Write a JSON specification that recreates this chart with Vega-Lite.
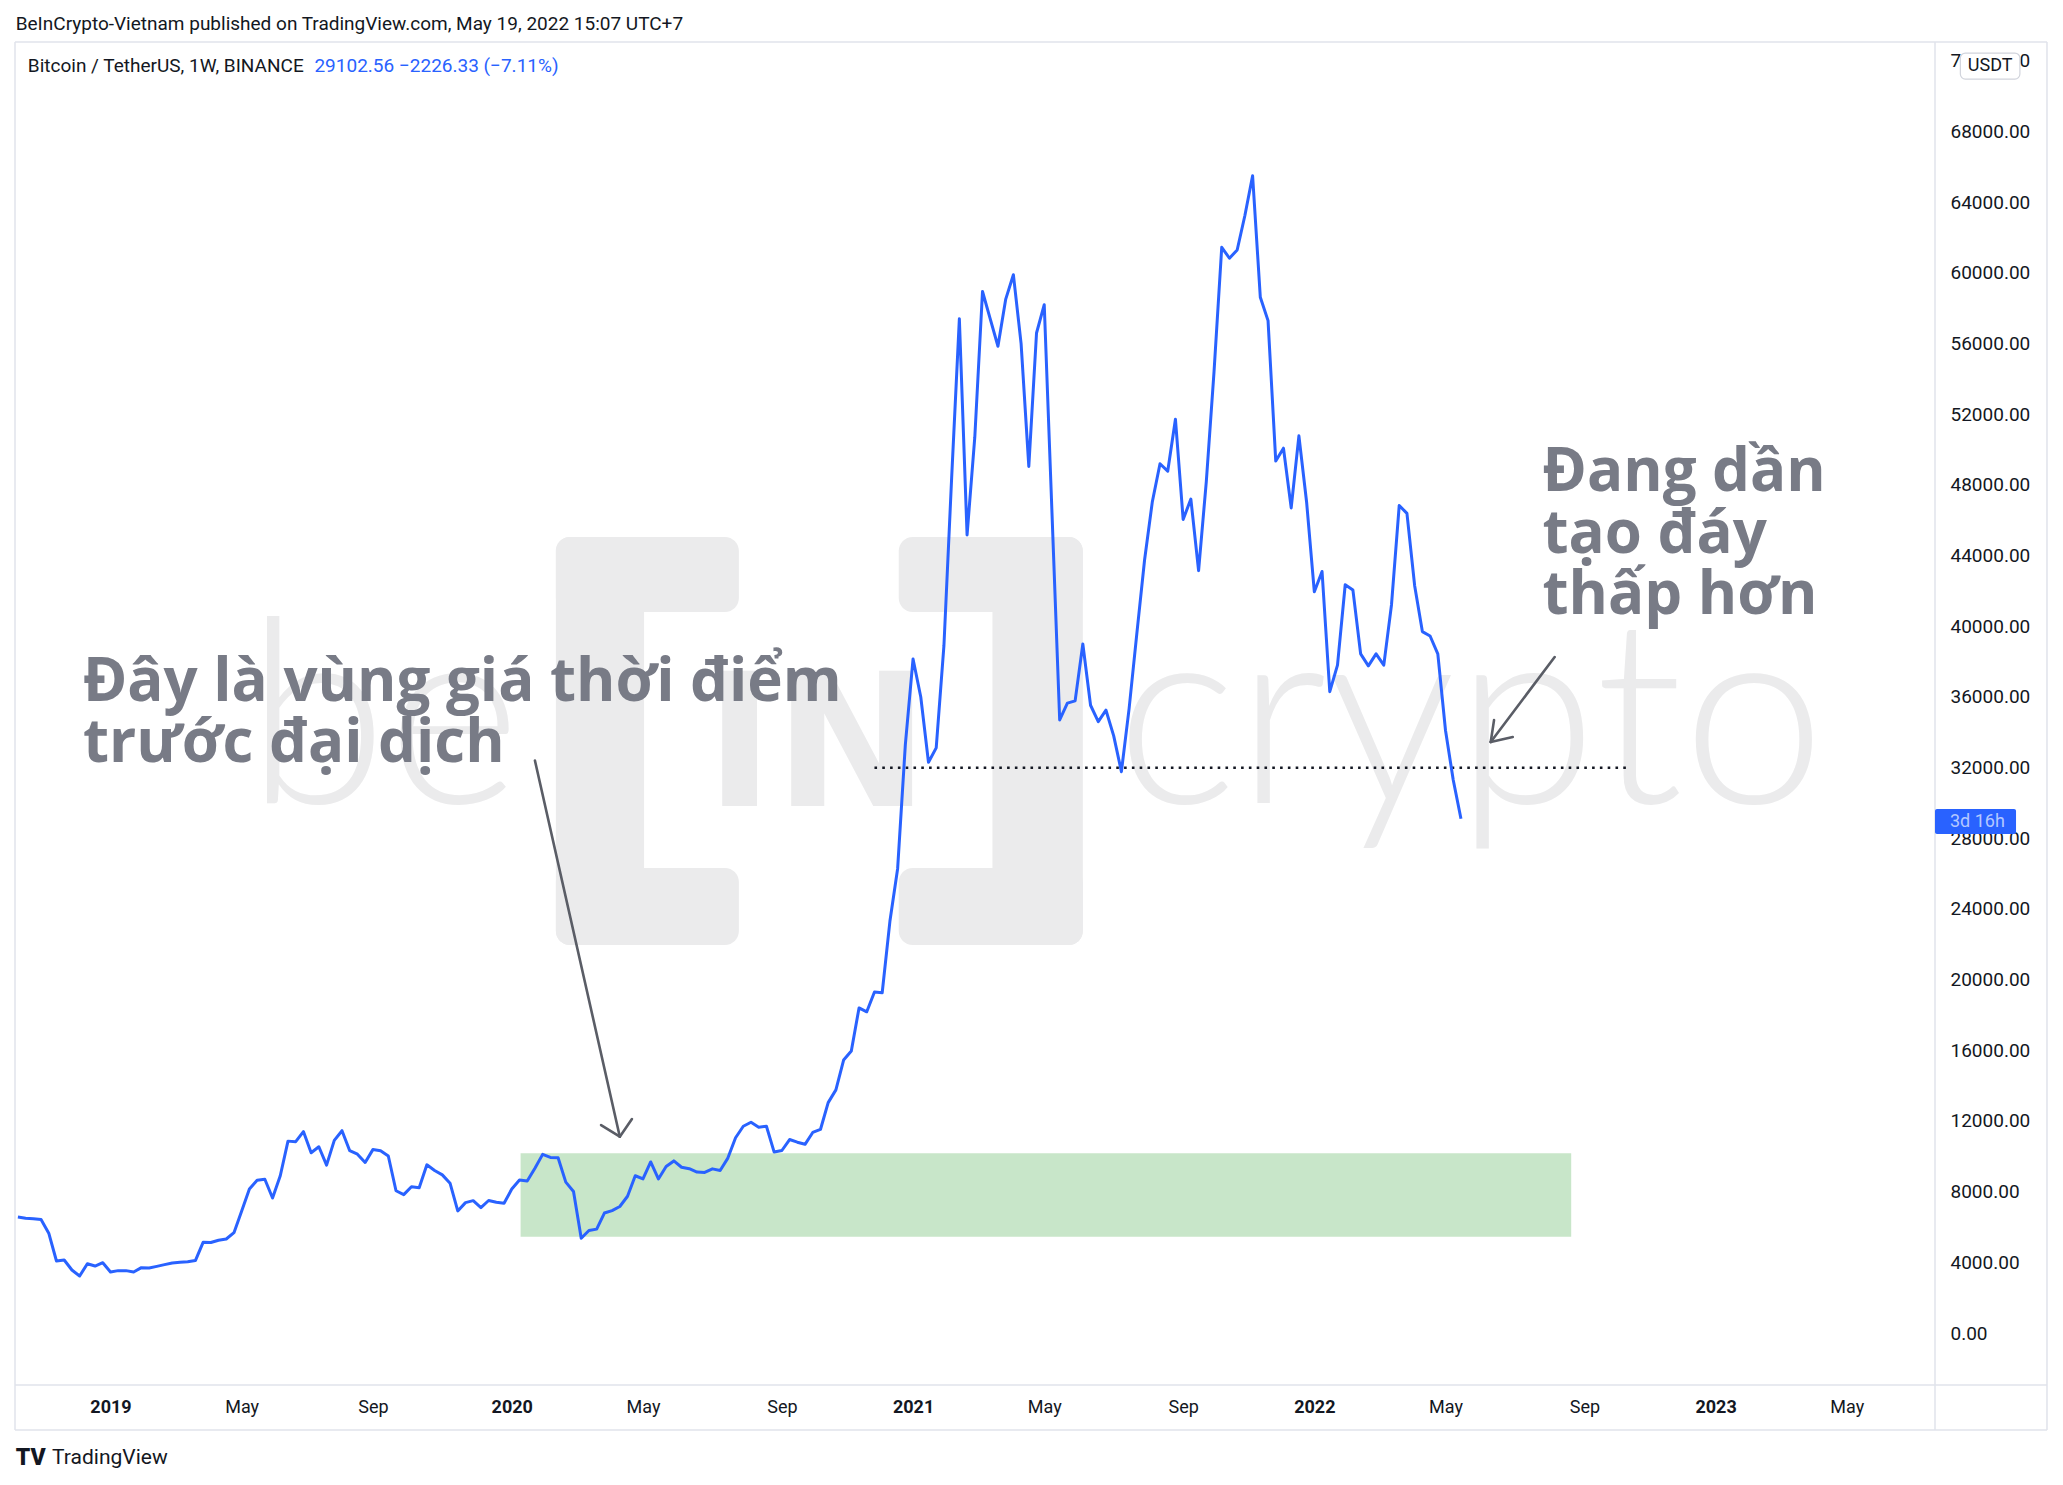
{
  "$schema": "https://vega.github.io/schema/vega-lite/v6.json",
  "width": 1920,
  "height": 1343,
  "autosize": "none",
  "padding": {"left": 15, "top": 42, "right": 128, "bottom": 100},
  "background": "white",
  "config": {"view": {"stroke": null}, "font": "Roboto"},
  "resolve": {"axis": {"x": "independent", "y": "independent"}},
  "datasets": {
    "btc": [
      {"d":"2018-10-15","p":6560},{"d":"2018-10-22","p":6490},{"d":"2018-10-29","p":6470},{"d":"2018-11-05","p":6420},
      {"d":"2018-11-12","p":5650},{"d":"2018-11-19","p":4075},{"d":"2018-11-26","p":4130},{"d":"2018-12-03","p":3565},
      {"d":"2018-12-10","p":3225},{"d":"2018-12-17","p":3920},{"d":"2018-12-24","p":3790},{"d":"2018-12-31","p":3980},
      {"d":"2019-01-07","p":3450},{"d":"2019-01-14","p":3530},{"d":"2019-01-21","p":3530},{"d":"2019-01-28","p":3450},
      {"d":"2019-02-04","p":3700},{"d":"2019-02-11","p":3680},{"d":"2019-02-18","p":3770},{"d":"2019-02-25","p":3870},
      {"d":"2019-03-04","p":3960},{"d":"2019-03-11","p":4000},{"d":"2019-03-18","p":4030},{"d":"2019-03-25","p":4100},
      {"d":"2019-04-01","p":5130},{"d":"2019-04-08","p":5120},{"d":"2019-04-15","p":5250},{"d":"2019-04-22","p":5320},
      {"d":"2019-04-29","p":5680},{"d":"2019-05-06","p":6900},{"d":"2019-05-13","p":8150},{"d":"2019-05-20","p":8650},
      {"d":"2019-05-27","p":8700},{"d":"2019-06-03","p":7640},{"d":"2019-06-10","p":8900},{"d":"2019-06-17","p":10860},
      {"d":"2019-06-24","p":10830},{"d":"2019-07-01","p":11400},{"d":"2019-07-08","p":10200},{"d":"2019-07-15","p":10540},
      {"d":"2019-07-22","p":9500},{"d":"2019-07-29","p":10900},{"d":"2019-08-05","p":11450},{"d":"2019-08-12","p":10320},
      {"d":"2019-08-19","p":10120},{"d":"2019-08-26","p":9650},{"d":"2019-09-02","p":10380},{"d":"2019-09-09","p":10320},
      {"d":"2019-09-16","p":10020},{"d":"2019-09-23","p":8050},{"d":"2019-09-30","p":7830},{"d":"2019-10-07","p":8280},
      {"d":"2019-10-14","p":8220},{"d":"2019-10-21","p":9520},{"d":"2019-10-28","p":9200},{"d":"2019-11-04","p":8950},
      {"d":"2019-11-11","p":8480},{"d":"2019-11-18","p":6910},{"d":"2019-11-25","p":7380},{"d":"2019-12-02","p":7490},
      {"d":"2019-12-09","p":7100},{"d":"2019-12-16","p":7500},{"d":"2019-12-23","p":7400},{"d":"2019-12-30","p":7340},
      {"d":"2020-01-06","p":8150},{"d":"2020-01-13","p":8660},{"d":"2020-01-20","p":8600},{"d":"2020-01-27","p":9330},
      {"d":"2020-02-03","p":10110},{"d":"2020-02-10","p":9940},{"d":"2020-02-17","p":9920},{"d":"2020-02-24","p":8540},
      {"d":"2020-03-02","p":8010},{"d":"2020-03-09","p":5360},{"d":"2020-03-16","p":5800},{"d":"2020-03-23","p":5880},
      {"d":"2020-03-30","p":6790},{"d":"2020-04-06","p":6930},{"d":"2020-04-13","p":7160},{"d":"2020-04-20","p":7740},
      {"d":"2020-04-27","p":8900},{"d":"2020-05-04","p":8720},{"d":"2020-05-11","p":9680},{"d":"2020-05-18","p":8720},
      {"d":"2020-05-25","p":9420},{"d":"2020-06-01","p":9740},{"d":"2020-06-08","p":9380},{"d":"2020-06-15","p":9300},
      {"d":"2020-06-22","p":9110},{"d":"2020-06-29","p":9090},{"d":"2020-07-06","p":9290},{"d":"2020-07-13","p":9200},
      {"d":"2020-07-20","p":9900},{"d":"2020-07-27","p":11050},{"d":"2020-08-03","p":11700},{"d":"2020-08-10","p":11930},
      {"d":"2020-08-17","p":11650},{"d":"2020-08-24","p":11700},{"d":"2020-08-31","p":10240},{"d":"2020-09-07","p":10330},
      {"d":"2020-09-14","p":10950},{"d":"2020-09-21","p":10800},{"d":"2020-09-28","p":10680},{"d":"2020-10-05","p":11350},
      {"d":"2020-10-12","p":11520},{"d":"2020-10-19","p":13040},{"d":"2020-10-26","p":13760},{"d":"2020-11-02","p":15450},
      {"d":"2020-11-09","p":15960},{"d":"2020-11-16","p":18400},{"d":"2020-11-23","p":18180},{"d":"2020-11-30","p":19300},
      {"d":"2020-12-07","p":19260},{"d":"2020-12-14","p":23300},{"d":"2020-12-21","p":26280},{"d":"2020-12-28","p":33300},
      {"d":"2021-01-04","p":38150},{"d":"2021-01-11","p":36000},{"d":"2021-01-18","p":32300},{"d":"2021-01-25","p":33120},
      {"d":"2021-02-01","p":38900},{"d":"2021-02-08","p":48400},{"d":"2021-02-15","p":57400},{"d":"2021-02-22","p":45170},
      {"d":"2021-03-01","p":50700},{"d":"2021-03-08","p":58950},{"d":"2021-03-15","p":57400},{"d":"2021-03-22","p":55850},
      {"d":"2021-03-29","p":58500},{"d":"2021-04-05","p":59900},{"d":"2021-04-12","p":56000},{"d":"2021-04-19","p":49050},
      {"d":"2021-04-26","p":56600},{"d":"2021-05-03","p":58200},{"d":"2021-05-10","p":46450},{"d":"2021-05-17","p":34700},
      {"d":"2021-05-24","p":35650},{"d":"2021-05-31","p":35780},{"d":"2021-06-07","p":39000},{"d":"2021-06-14","p":35530},
      {"d":"2021-06-21","p":34600},{"d":"2021-06-28","p":35250},{"d":"2021-07-05","p":33800},{"d":"2021-07-12","p":31770},
      {"d":"2021-07-19","p":35350},{"d":"2021-07-26","p":39600},{"d":"2021-08-02","p":43750},{"d":"2021-08-09","p":47030},
      {"d":"2021-08-16","p":49200},{"d":"2021-08-23","p":48780},{"d":"2021-08-30","p":51720},{"d":"2021-09-06","p":46050},
      {"d":"2021-09-13","p":47200},{"d":"2021-09-20","p":43150},{"d":"2021-09-27","p":48190},{"d":"2021-10-04","p":54400},
      {"d":"2021-10-11","p":61450},{"d":"2021-10-18","p":60830},{"d":"2021-10-25","p":61300},{"d":"2021-11-01","p":63250},
      {"d":"2021-11-08","p":65500},{"d":"2021-11-15","p":58620},{"d":"2021-11-22","p":57300},{"d":"2021-11-29","p":49350},
      {"d":"2021-12-06","p":50080},{"d":"2021-12-13","p":46700},{"d":"2021-12-20","p":50780},{"d":"2021-12-27","p":47020},
      {"d":"2022-01-03","p":41950},{"d":"2022-01-10","p":43100},{"d":"2022-01-17","p":36300},{"d":"2022-01-24","p":37800},
      {"d":"2022-01-31","p":42350},{"d":"2022-02-07","p":42050},{"d":"2022-02-14","p":38440},{"d":"2022-02-21","p":37760},
      {"d":"2022-02-28","p":38440},{"d":"2022-03-07","p":37800},{"d":"2022-03-14","p":41220},{"d":"2022-03-21","p":46840},
      {"d":"2022-03-28","p":46390},{"d":"2022-04-04","p":42300},{"d":"2022-04-11","p":39700},{"d":"2022-04-18","p":39450},
      {"d":"2022-04-25","p":38440},{"d":"2022-05-02","p":34100},{"d":"2022-05-09","p":31300},{"d":"2022-05-16","p":29102.56}
    ],
    "frame": [
      {"x1":"2018-10-12T09:00:00Z","x2":"2023-10-29T14:00:00Z","y1":73070,"y2":73070},
      {"x1":"2018-10-12T09:00:00Z","x2":"2018-10-12T09:00:00Z","y1":73070,"y2":-5490},
      {"x1":"2018-10-12T09:00:00Z","x2":"2023-10-29T14:00:00Z","y1":-5490,"y2":-5490},
      {"x1":"2023-10-29T14:00:00Z","x2":"2023-10-29T14:00:00Z","y1":73070,"y2":-5490},
      {"x1":"2023-07-20T00:00:00Z","x2":"2023-07-20T00:00:00Z","y1":73070,"y2":-5490},
      {"x1":"2018-10-12T09:00:00Z","x2":"2023-10-29T14:00:00Z","y1":-2943,"y2":-2943}
    ],
    "logoBlocks": [
      {"x1":"2020-02-15","x2":"2020-05-05","y1":45050,"y2":21960},
      {"x1":"2020-02-15","x2":"2020-07-30","y1":45050,"y2":40810},
      {"x1":"2020-02-15","x2":"2020-07-30","y1":26320,"y2":21960},
      {"x1":"2021-03-17","x2":"2021-06-07","y1":45050,"y2":21960},
      {"x1":"2020-12-22","x2":"2021-06-07","y1":45050,"y2":40810},
      {"x1":"2020-12-22","x2":"2021-06-07","y1":26320,"y2":21960}
    ],
    "logoWords": [
      {"d":"2019-05-10","p":30000,"t":"be"},
      {"d":"2021-07-07","p":30000,"t":"crypto"}
    ],
    "logoIN": [{"d":"2020-10-09","p":29830,"t":"IN"}],
    "zone": [{"x1":"2020-01-14","x2":"2022-08-24","y1":10170,"y2":5450}],
    "level": [{"x1":"2020-11-30","x2":"2022-10-15","y":32000}],
    "arrows": [
      {"x1":"2020-01-27","y1":32400,"x2":"2020-04-13","y2":11110},
      {"x1":"2020-03-27","y1":11770,"x2":"2020-04-13","y2":11110},
      {"x1":"2020-04-24","y1":12110,"x2":"2020-04-13","y2":11110},
      {"x1":"2022-08-09","y1":38260,"x2":"2022-06-12","y2":33450},
      {"x1":"2022-07-02","y1":33730,"x2":"2022-06-12","y2":33450},
      {"x1":"2022-06-15","y1":34690,"x2":"2022-06-12","y2":33450}
    ],
    "notes": [
      {"d":"2018-12-13","p":35770,"t":"Đây là vùng giá thời điểm"},
      {"d":"2018-12-13","p":32320,"t":"trước đại dịch"},
      {"d":"2022-07-29","p":47650,"t":"Đang dần"},
      {"d":"2022-07-29","p":44150,"t":"tạo đáy"},
      {"d":"2022-07-29","p":40690,"t":"thấp hơn"}
    ],
    "header": [{"d":"2018-10-13","p":74084,"t":"BeInCrypto-Vietnam published on TradingView.com, May 19, 2022 15:07 UTC+7"}],
    "legendBlack": [{"d":"2018-10-24","p":71707,"t":"Bitcoin / TetherUS, 1W, BINANCE"}],
    "legendBlue": [{"d":"2019-07-11","p":71707,"t":"29102.56  −2226.33 (−7.11%)"}],
    "footLogo": [{"d":"2018-10-13","p":-7075,"t":"TV"}],
    "footText": [{"d":"2018-11-15","p":-7075,"t":"TradingView"}],
    "usdtBox": [{"x1":"2023-08-12","x2":"2023-10-05","y1":72443,"y2":70971}],
    "usdtText": [{"d":"2023-09-08","p":71707,"t":"USDT"}],
    "priceBox": [{"x1":"2023-07-20","x2":"2023-10-01T12:00:00Z","y1":29656,"y2":28241}],
    "priceText": [{"d":"2023-08-02T14:00:00Z","p":28950,"t":"3d 16h"}]
  },
  "layer": [
    {
      "data": {"name": "frame"},
      "mark": {"type": "rule", "color": "#e0e3eb", "strokeWidth": 1.5},
      "encoding": {
        "x": {"field": "x1", "type": "temporal", "axis": null, "scale": {"type": "utc", "domain": [{"year": 2018, "month": 10, "date": 12, "hours": 9, "utc": true}, {"year": 2023, "month": 7, "date": 20, "utc": true}]}},
        "x2": {"field": "x2"},
        "y": {"field": "y1", "type": "quantitative", "axis": null, "scale": {"domain": [-2943, 73070], "nice": false, "zero": false}},
        "y2": {"field": "y2"}
      }
    },
    {
      "data": {"name": "logoBlocks"},
      "mark": {"type": "rect", "color": "#ebebec", "cornerRadius": 14},
      "encoding": {
        "x": {"field": "x1", "type": "temporal", "axis": null, "scale": {"type": "utc", "domain": [{"year": 2018, "month": 10, "date": 12, "hours": 9, "utc": true}, {"year": 2023, "month": 7, "date": 20, "utc": true}]}},
        "x2": {"field": "x2"},
        "y": {"field": "y1", "type": "quantitative", "axis": null, "scale": {"domain": [-2943, 73070], "nice": false, "zero": false}},
        "y2": {"field": "y2"}
      }
    },
    {
      "data": {"name": "logoWords"},
      "mark": {"type": "text", "align": "left", "baseline": "alphabetic", "font": "Lato", "fontWeight": 300, "fontSize": 256, "color": "#ebebec"},
      "encoding": {
        "x": {"field": "d", "type": "temporal", "axis": null, "scale": {"type": "utc", "domain": [{"year": 2018, "month": 10, "date": 12, "hours": 9, "utc": true}, {"year": 2023, "month": 7, "date": 20, "utc": true}]}},
        "y": {"field": "p", "type": "quantitative", "axis": null, "scale": {"domain": [-2943, 73070], "nice": false, "zero": false}},
        "text": {"field": "t", "type": "nominal"}
      }
    },
    {
      "data": {"name": "logoIN"},
      "mark": {"type": "text", "align": "center", "baseline": "alphabetic", "font": "DejaVu Sans", "fontWeight": "bold", "fontSize": 185, "color": "#ebebec"},
      "encoding": {
        "x": {"field": "d", "type": "temporal", "axis": null, "scale": {"type": "utc", "domain": [{"year": 2018, "month": 10, "date": 12, "hours": 9, "utc": true}, {"year": 2023, "month": 7, "date": 20, "utc": true}]}},
        "y": {"field": "p", "type": "quantitative", "axis": null, "scale": {"domain": [-2943, 73070], "nice": false, "zero": false}},
        "text": {"field": "t", "type": "nominal"}
      }
    },
    {
      "data": {"name": "zone"},
      "mark": {"type": "rect", "color": "#c8e6c9"},
      "encoding": {
        "x": {"field": "x1", "type": "temporal", "axis": null, "scale": {"type": "utc", "domain": [{"year": 2018, "month": 10, "date": 12, "hours": 9, "utc": true}, {"year": 2023, "month": 7, "date": 20, "utc": true}]}},
        "x2": {"field": "x2"},
        "y": {"field": "y1", "type": "quantitative", "axis": null, "scale": {"domain": [-2943, 73070], "nice": false, "zero": false}},
        "y2": {"field": "y2"}
      }
    },
    {
      "data": {"name": "level"},
      "mark": {"type": "rule", "color": "#131722", "strokeWidth": 2.5, "strokeDash": [2.6, 5.2]},
      "encoding": {
        "x": {"field": "x1", "type": "temporal", "axis": null, "scale": {"type": "utc", "domain": [{"year": 2018, "month": 10, "date": 12, "hours": 9, "utc": true}, {"year": 2023, "month": 7, "date": 20, "utc": true}]}},
        "x2": {"field": "x2"},
        "y": {"field": "y", "type": "quantitative", "axis": null, "scale": {"domain": [-2943, 73070], "nice": false, "zero": false}}
      }
    },
    {
      "data": {"name": "btc"},
      "mark": {"type": "line", "color": "#2962ff", "strokeWidth": 3, "strokeJoin": "round"},
      "encoding": {
        "x": {
          "field": "d", "type": "temporal",
          "scale": {"type": "utc", "domain": [{"year": 2018, "month": 10, "date": 12, "hours": 9, "utc": true}, {"year": 2023, "month": 7, "date": 20, "utc": true}]},
          "axis": {
            "orient": "bottom", "title": null, "grid": false, "domain": false, "ticks": false, "tickSize": 0,
            "labelPadding": 13, "labelFont": "Roboto", "labelFontSize": 18, "labelColor": "#131722",
            "labelFlush": false, "labelOverlap": false,
            "values": [
              {"year": 2019, "month": 1, "date": 7, "utc": true},
              {"year": 2019, "month": 5, "date": 6, "utc": true},
              {"year": 2019, "month": 9, "date": 2, "utc": true},
              {"year": 2020, "month": 1, "date": 6, "utc": true},
              {"year": 2020, "month": 5, "date": 4, "utc": true},
              {"year": 2020, "month": 9, "date": 7, "utc": true},
              {"year": 2021, "month": 1, "date": 4, "utc": true},
              {"year": 2021, "month": 5, "date": 3, "utc": true},
              {"year": 2021, "month": 9, "date": 6, "utc": true},
              {"year": 2022, "month": 1, "date": 3, "utc": true},
              {"year": 2022, "month": 5, "date": 2, "utc": true},
              {"year": 2022, "month": 9, "date": 5, "utc": true},
              {"year": 2023, "month": 1, "date": 2, "utc": true},
              {"year": 2023, "month": 5, "date": 1, "utc": true}
            ],
            "labelExpr": "utcmonth(datum.value) == 0 ? utcFormat(datum.value, '%Y') : utcFormat(datum.value, '%b')",
            "labelFontWeight": {"condition": {"test": "utcmonth(datum.value) == 0", "value": "bold"}, "value": "normal"}
          }
        },
        "y": {
          "field": "p", "type": "quantitative",
          "scale": {"domain": [-2943, 73070], "nice": false, "zero": false},
          "axis": {
            "orient": "right", "title": null, "grid": false, "domain": false, "ticks": false, "tickSize": 0,
            "labelPadding": 15, "labelFont": "Roboto", "labelFontSize": 19, "labelColor": "#131722",
            "labelAlign": "left", "labelBaseline": "middle", "labelFlush": false, "labelOverlap": false,
            "format": ".2f",
            "values": [0, 4000, 8000, 12000, 16000, 20000, 24000, 28000, 32000, 36000, 40000, 44000, 48000, 52000, 56000, 60000, 64000, 68000, 72000]
          }
        }
      }
    },
    {
      "data": {"name": "arrows"},
      "mark": {"type": "rule", "color": "#5a5d66", "strokeWidth": 2.6, "strokeCap": "round"},
      "encoding": {
        "x": {"field": "x1", "type": "temporal", "axis": null, "scale": {"type": "utc", "domain": [{"year": 2018, "month": 10, "date": 12, "hours": 9, "utc": true}, {"year": 2023, "month": 7, "date": 20, "utc": true}]}},
        "x2": {"field": "x2"},
        "y": {"field": "y1", "type": "quantitative", "axis": null, "scale": {"domain": [-2943, 73070], "nice": false, "zero": false}},
        "y2": {"field": "y2"}
      }
    },
    {
      "data": {"name": "notes"},
      "mark": {"type": "text", "align": "left", "baseline": "alphabetic", "font": "Open Sans", "fontWeight": "bold", "fontSize": 60, "color": "#787b86"},
      "encoding": {
        "x": {"field": "d", "type": "temporal", "axis": null, "scale": {"type": "utc", "domain": [{"year": 2018, "month": 10, "date": 12, "hours": 9, "utc": true}, {"year": 2023, "month": 7, "date": 20, "utc": true}]}},
        "y": {"field": "p", "type": "quantitative", "axis": null, "scale": {"domain": [-2943, 73070], "nice": false, "zero": false}},
        "text": {"field": "t", "type": "nominal"}
      }
    },
    {
      "data": {"name": "header"},
      "mark": {"type": "text", "align": "left", "baseline": "middle", "font": "Roboto", "fontSize": 19, "color": "#131722"},
      "encoding": {
        "x": {"field": "d", "type": "temporal", "axis": null, "scale": {"type": "utc", "domain": [{"year": 2018, "month": 10, "date": 12, "hours": 9, "utc": true}, {"year": 2023, "month": 7, "date": 20, "utc": true}]}},
        "y": {"field": "p", "type": "quantitative", "axis": null, "scale": {"domain": [-2943, 73070], "nice": false, "zero": false}},
        "text": {"field": "t", "type": "nominal"}
      }
    },
    {
      "data": {"name": "legendBlack"},
      "mark": {"type": "text", "align": "left", "baseline": "middle", "font": "Roboto", "fontSize": 19, "color": "#131722"},
      "encoding": {
        "x": {"field": "d", "type": "temporal", "axis": null, "scale": {"type": "utc", "domain": [{"year": 2018, "month": 10, "date": 12, "hours": 9, "utc": true}, {"year": 2023, "month": 7, "date": 20, "utc": true}]}},
        "y": {"field": "p", "type": "quantitative", "axis": null, "scale": {"domain": [-2943, 73070], "nice": false, "zero": false}},
        "text": {"field": "t", "type": "nominal"}
      }
    },
    {
      "data": {"name": "legendBlue"},
      "mark": {"type": "text", "align": "left", "baseline": "middle", "font": "Roboto", "fontSize": 19, "color": "#2962ff"},
      "encoding": {
        "x": {"field": "d", "type": "temporal", "axis": null, "scale": {"type": "utc", "domain": [{"year": 2018, "month": 10, "date": 12, "hours": 9, "utc": true}, {"year": 2023, "month": 7, "date": 20, "utc": true}]}},
        "y": {"field": "p", "type": "quantitative", "axis": null, "scale": {"domain": [-2943, 73070], "nice": false, "zero": false}},
        "text": {"field": "t", "type": "nominal"}
      }
    },
    {
      "data": {"name": "footLogo"},
      "mark": {"type": "text", "align": "left", "baseline": "middle", "font": "Roboto", "fontWeight": 900, "fontSize": 23, "color": "#131722"},
      "encoding": {
        "x": {"field": "d", "type": "temporal", "axis": null, "scale": {"type": "utc", "domain": [{"year": 2018, "month": 10, "date": 12, "hours": 9, "utc": true}, {"year": 2023, "month": 7, "date": 20, "utc": true}]}},
        "y": {"field": "p", "type": "quantitative", "axis": null, "scale": {"domain": [-2943, 73070], "nice": false, "zero": false}},
        "text": {"field": "t", "type": "nominal"}
      }
    },
    {
      "data": {"name": "footText"},
      "mark": {"type": "text", "align": "left", "baseline": "middle", "font": "Roboto", "fontSize": 21, "color": "#131722"},
      "encoding": {
        "x": {"field": "d", "type": "temporal", "axis": null, "scale": {"type": "utc", "domain": [{"year": 2018, "month": 10, "date": 12, "hours": 9, "utc": true}, {"year": 2023, "month": 7, "date": 20, "utc": true}]}},
        "y": {"field": "p", "type": "quantitative", "axis": null, "scale": {"domain": [-2943, 73070], "nice": false, "zero": false}},
        "text": {"field": "t", "type": "nominal"}
      }
    },
    {
      "data": {"name": "usdtBox"},
      "mark": {"type": "rect", "fill": "white", "stroke": "#d1d4dc", "strokeWidth": 1.2, "cornerRadius": 5},
      "encoding": {
        "x": {"field": "x1", "type": "temporal", "axis": null, "scale": {"type": "utc", "domain": [{"year": 2018, "month": 10, "date": 12, "hours": 9, "utc": true}, {"year": 2023, "month": 7, "date": 20, "utc": true}]}},
        "x2": {"field": "x2"},
        "y": {"field": "y1", "type": "quantitative", "axis": null, "scale": {"domain": [-2943, 73070], "nice": false, "zero": false}},
        "y2": {"field": "y2"}
      }
    },
    {
      "data": {"name": "usdtText"},
      "mark": {"type": "text", "align": "center", "baseline": "middle", "font": "Roboto", "fontSize": 18, "color": "#131722"},
      "encoding": {
        "x": {"field": "d", "type": "temporal", "axis": null, "scale": {"type": "utc", "domain": [{"year": 2018, "month": 10, "date": 12, "hours": 9, "utc": true}, {"year": 2023, "month": 7, "date": 20, "utc": true}]}},
        "y": {"field": "p", "type": "quantitative", "axis": null, "scale": {"domain": [-2943, 73070], "nice": false, "zero": false}},
        "text": {"field": "t", "type": "nominal"}
      }
    },
    {
      "data": {"name": "priceBox"},
      "mark": {"type": "rect", "color": "#2962ff", "cornerRadius": 2},
      "encoding": {
        "x": {"field": "x1", "type": "temporal", "axis": null, "scale": {"type": "utc", "domain": [{"year": 2018, "month": 10, "date": 12, "hours": 9, "utc": true}, {"year": 2023, "month": 7, "date": 20, "utc": true}]}},
        "x2": {"field": "x2"},
        "y": {"field": "y1", "type": "quantitative", "axis": null, "scale": {"domain": [-2943, 73070], "nice": false, "zero": false}},
        "y2": {"field": "y2"}
      }
    },
    {
      "data": {"name": "priceText"},
      "mark": {"type": "text", "align": "left", "baseline": "middle", "font": "Roboto", "fontSize": 18, "color": "#b4c8ff"},
      "encoding": {
        "x": {"field": "d", "type": "temporal", "axis": null, "scale": {"type": "utc", "domain": [{"year": 2018, "month": 10, "date": 12, "hours": 9, "utc": true}, {"year": 2023, "month": 7, "date": 20, "utc": true}]}},
        "y": {"field": "p", "type": "quantitative", "axis": null, "scale": {"domain": [-2943, 73070], "nice": false, "zero": false}},
        "text": {"field": "t", "type": "nominal"}
      }
    }
  ]
}
